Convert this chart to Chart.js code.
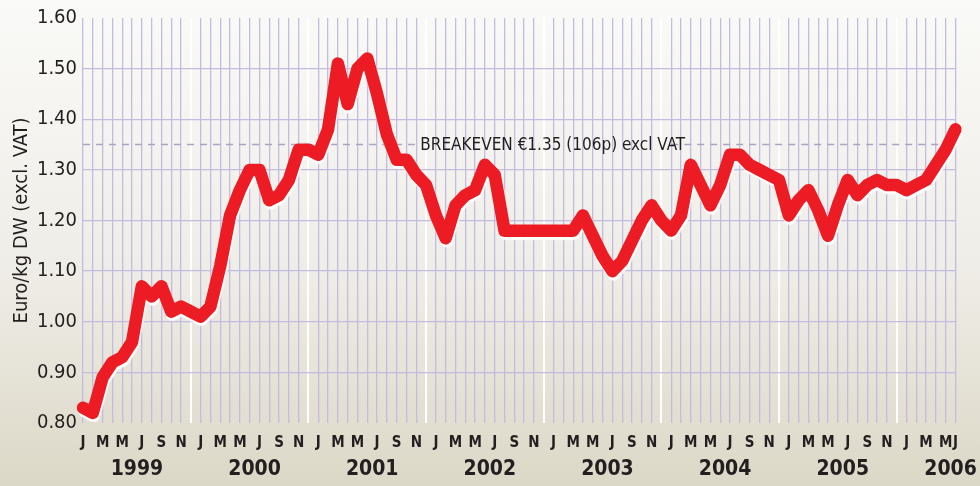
<!DOCTYPE html>
<html>
<head>
<meta charset="utf-8">
<script src="https://cdn.jsdelivr.net/npm/chart.js@4.4.0/dist/chart.umd.min.js"></script>
<style>
  html, body { margin: 0; padding: 0; }
  body {
    width: 980px;
    height: 486px;
    background: linear-gradient(to bottom, #fafaf8 0%, #efede7 55%, #dcd8c7 100%);
  }
  #wrap { position: relative; width: 980px; height: 486px; }
</style>
</head>
<body>
<div id="wrap"><canvas id="chart"></canvas></div>
<script>
// 数据：月度价格 (1999年1月 - 2006年6月)
const years = ['1999', '2000', '2001', '2002', '2003', '2004', '2005', '2006'];
const monthLetters = ['J', 'F', 'M', 'A', 'M', 'J', 'J', 'A', 'S', 'O', 'N', 'D'];
const prices = [
    0.83, 0.82, 0.89, 0.92, 0.93, 0.96, 1.07, 1.05, 1.07, 1.02, 1.03, 1.02,
    1.01, 1.03, 1.11, 1.21, 1.26, 1.30, 1.30, 1.24, 1.25, 1.28, 1.34, 1.34,
    1.33, 1.38, 1.51, 1.43, 1.50, 1.52, 1.45, 1.37, 1.32, 1.32, 1.29, 1.27,
    1.21, 1.165, 1.23, 1.25, 1.26, 1.31, 1.29, 1.18, 1.18, 1.18, 1.18, 1.18,
    1.18, 1.18, 1.18, 1.21, 1.17, 1.13, 1.10, 1.12, 1.16, 1.20, 1.23, 1.20,
    1.18, 1.21, 1.31, 1.27, 1.23, 1.27, 1.33, 1.33, 1.31, 1.30, 1.29, 1.28,
    1.21, 1.24, 1.26, 1.22, 1.17, 1.23, 1.28, 1.25, 1.27, 1.28, 1.27, 1.27,
    1.26, 1.27, 1.28, 1.31, 1.34, 1.38
];
const yTicks = [0.80, 0.90, 1.00, 1.10, 1.20, 1.30, 1.40, 1.50, 1.60];
const breakeven = 1.35;
const breakevenLabel = 'BREAKEVEN €1.35 (106p) excl VAT';
const yTitle = 'Euro/kg DW (excl. VAT)';

// 类别标签
const labels = prices.map((p, i) => monthLetters[i % 12]);
const n = labels.length;
// 虚线中断的位置（文字区域）
const gapFrom = 34, gapTo = 60;

const FONT = "'DejaVu Sans Condensed', sans-serif";
const GRID = '#c4bce0';
const INK = '#231f20';

// 红线下方的白色阴影
const lineShadow = {
    id: 'lineShadow',
    beforeDatasetDraw(chart, args) {
        if (args.index !== 0) return;
        const ctx = chart.ctx;
        ctx.save();
        ctx.shadowColor = 'rgba(255,255,255,0.95)';
        ctx.shadowOffsetX = 1;
        ctx.shadowOffsetY = 3;
        ctx.shadowBlur = 1;
    },
    afterDatasetDraw(chart, args) {
        if (args.index !== 0) return;
        chart.ctx.restore();
    }
};

// 盈亏平衡线文字
const breakevenText = {
    id: 'breakevenText',
    afterDatasetsDraw(chart) {
        const { ctx, scales } = chart;
        const y = scales.y.getPixelForValue(breakeven);
        const x0 = scales.x.getPixelForValue(gapFrom);
        const x1 = scales.x.getPixelForValue(gapTo);
        ctx.save();
        ctx.font = '17px ' + FONT;
        ctx.fillStyle = INK;
        ctx.textAlign = 'center';
        ctx.textBaseline = 'middle';
        ctx.fillText(breakevenLabel, (x0 + x1) / 2 + 9, y + 1);
        ctx.restore();
    }
};

new Chart(document.getElementById('chart'), {
    type: 'line',
    data: {
        labels: labels,
        datasets: [{
            data: prices,
            borderColor: '#ed1c24',
            borderWidth: 12.5,
            borderJoinStyle: 'round',
            borderCapStyle: 'round',
            pointRadius: 0,
            tension: 0
        }, {
            data: labels.map(() => breakeven),
            borderColor: '#aaa3c6',
            borderWidth: 1.6,
            borderDash: [7, 6],
            pointRadius: 0,
            segment: {
                borderColor: c => (c.p0DataIndex >= gapFrom && c.p1DataIndex <= gapTo) ? 'rgba(0,0,0,0)' : '#aaa3c6'
            }
        }]
    },
    options: {
        responsive: true,
        maintainAspectRatio: false,
        animation: false,
        layout: { padding: { top: 15, right: 15, left: 0, bottom: 0 } },
        plugins: {
            legend: { display: false },
            tooltip: { enabled: false }
        },
        scales: {
            x: {
                type: 'category',
                weight: 0,
                offset: false,
                border: { display: false },
                grid: {
                    drawTicks: false,
                    color: c => (c.index % 12 === 11) ? '#ffffff' : GRID,
                    lineWidth: c => (c.index % 12 === 11) ? 2 : 1.3
                },
                ticks: {
                    autoSkip: false,
                    maxRotation: 0,
                    padding: 11,
                    color: INK,
                    font: { family: FONT, size: 15, weight: 'bold' },
                    callback: (v, i) => (i % 2 === 0 || i === n - 1) ? labels[i] : ''
                },
                afterFit: s => { s.height = 31; }
            },
            years: {
                type: 'linear',
                position: 'bottom',
                weight: 1,
                min: 0,
                max: n - 1,
                border: { display: false },
                grid: { display: false, drawTicks: false },
                afterBuildTicks: axis => {
                    axis.ticks = years.map((y, k) => ({ value: Math.min(12 * k + 5.5, n - 1.5) }));
                },
                ticks: {
                    autoSkip: false,
                    maxRotation: 0,
                    padding: 3,
                    color: INK,
                    font: { family: FONT, size: 21, weight: 'bold' },
                    callback: (v, i) => years[i]
                },
                afterFit: s => { s.height = 32; }
            },
            y: {
                min: 0.8,
                max: 1.6,
                border: { display: false },
                afterBuildTicks: axis => {
                    axis.ticks = yTicks.map(v => ({ value: v }));
                },
                grid: {
                    drawTicks: false,
                    color: c => (c.tick.value <= 0.85 || c.tick.value >= 1.55) ? 'rgba(0,0,0,0)' : GRID,
                    lineWidth: 1.3
                },
                ticks: {
                    padding: 6,
                    color: INK,
                    font: { family: FONT, size: 20 },
                    callback: v => v.toFixed(2)
                },
                title: {
                    display: true,
                    text: yTitle,
                    color: INK,
                    font: { family: FONT, size: 20 },
                    padding: { top: 10, bottom: 0 }
                },
                afterFit: s => { s.width = 83; }
            }
        }
    },
    plugins: [lineShadow, breakevenText]
});
</script>
</body>
</html>
